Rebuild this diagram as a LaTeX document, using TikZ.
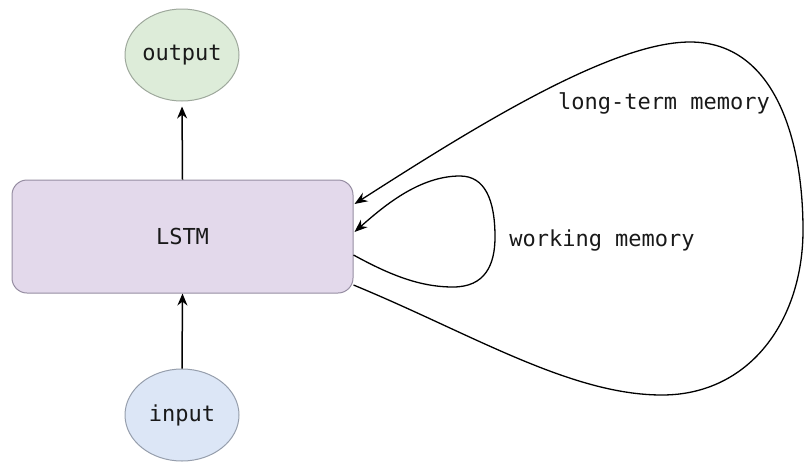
\documentclass[tikz,border=0pt]{standalone}
\usepackage{fontspec}
\setmonofont{DejaVu Sans Mono}
\usetikzlibrary{shapes.geometric,arrows.meta}

\definecolor{outfill}{HTML}{DDECD9}
\definecolor{outdraw}{HTML}{9EA89C}
\definecolor{cellfill}{HTML}{E3D9EB}
\definecolor{celldraw}{HTML}{968DA2}
\definecolor{infill}{HTML}{DCE6F6}
\definecolor{indraw}{HTML}{969EAC}

\tikzset{
  every node/.style={font=\ttfamily\fontsize{22}{26}\selectfont, text=black!90},
  io/.style={ellipse, minimum width=114pt, minimum height=92pt, inner sep=0pt, line width=1pt},
  cell/.style={rectangle, rounded corners=15pt, minimum width=341pt, minimum height=113pt,
               fill=cellfill, draw=celldraw, line width=1pt},
  flow/.style={line width=1.5pt, -{Stealth[length=12pt,width=10pt]}},
  loop/.style={line width=1.3pt, -{Stealth[length=13pt,width=10pt]}},
  lbl/.style={anchor=center}
}

\begin{document}
\begin{tikzpicture}[x=1pt, y=-1pt]
  \useasboundingbox (0,0) rectangle (805,464);

  % nodes
  \node[io, fill=outfill, draw=outdraw] (out) at (182,55) {output};
  \node[cell] (lstm) at (182.5,236.5) {LSTM};
  \node[io, fill=infill, draw=indraw] (in) at (182,415) {input};

  % input -> LSTM -> output
  \draw[flow, shorten >=5pt] (lstm.north) -- (out.south);
  \draw[flow] (in.north) -- (lstm.south);

  % long-term memory loop
  \draw[loop] ([yshift=-48.5pt]lstm.east)
      .. controls (470,333) and (570,395) .. (662,395)
      .. controls (750,395) and (803,320) .. (803,230)
      .. controls (803,140) and (775,42) .. (690,42)
      .. controls (610,42) and (470,130) .. ([yshift=32.5pt,xshift=1pt]lstm.east);

  % working memory loop
  \draw[loop] ([yshift=-18.5pt]lstm.east)
      .. controls (390,275) and (420,287) .. (453,287)
      .. controls (485,287) and (495,265) .. (495,237)
      .. controls (495,200) and (485,176) .. (460,176)
      .. controls (420,176) and (385,205) .. ([yshift=4.5pt,xshift=1pt]lstm.east);

  % loop labels
  \node[lbl] (ltm) at (664,103) {long-term memory};
  \node[lbl] (wm) at (602,240) {working memory};
\end{tikzpicture}
\end{document}
